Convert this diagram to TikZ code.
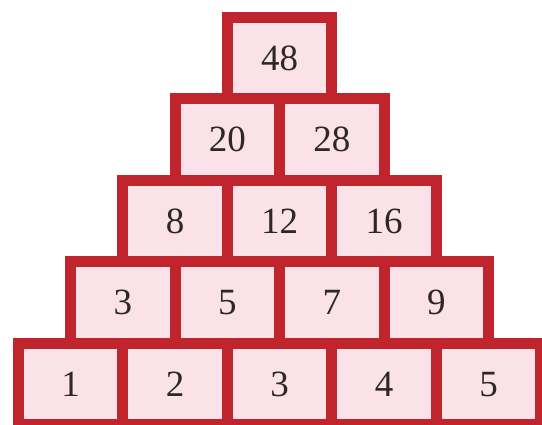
\documentclass[tikz,border=0pt]{standalone}
\usepackage{tikz}
\usepackage{fontspec}
\setmainfont{Liberation Serif}

\definecolor{brickred}{RGB}{192,36,44}
\definecolor{brickpink}{RGB}{251,226,232}
\definecolor{digitgray}{RGB}{45,40,40}

\begin{document}
\begin{tikzpicture}[x=1pt,y=-1pt,
  brick/.style={draw=brickred,fill=brickpink,line width=11pt,
    minimum width=104.5pt,minimum height=81.5pt,inner sep=0pt,
    text=digitgray,font=\fontsize{37}{40}\selectfont}]
\useasboundingbox (0,0) rectangle (542,425);
\clip (0,0) rectangle (542,425);
% rows of the number pyramid, top to bottom
\foreach \r/\vals in {1/{48},2/{20,28},3/{8,12,16},4/{3,5,7,9},5/{1,2,3,4,5}}
  \foreach \v [count=\c] in \vals
    \node[brick] (b-\r-\c) at ({279.5+(\c-(\r+1)/2)*104.5},{58.25+(\r-1)*81.5}) {\v};
\end{tikzpicture}
\end{document}
